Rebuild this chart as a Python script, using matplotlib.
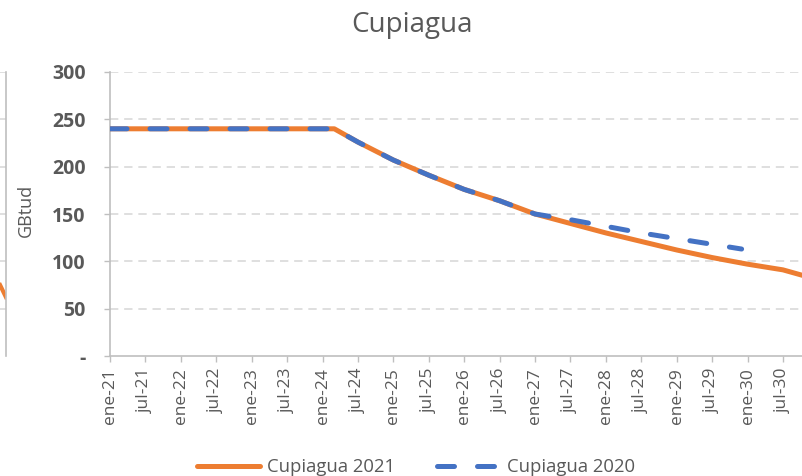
import matplotlib
matplotlib.use("Agg")
import matplotlib.pyplot as plt

plt.rcParams['font.family'] = ['Open Sans', 'DejaVu Sans']

# ---- data (x = months since ene-21) ----
month_2021 = [0, 38, 42, 48, 54, 60, 66, 72, 78, 84, 90, 96, 102, 108, 114, 118]
value_2021 = [240, 240, 226, 207, 191, 176, 164, 150, 140, 130, 121, 112, 104, 97, 91, 84]

month_2020 = [0, 38, 42, 48, 54, 60, 66, 72, 78, 84, 90, 96, 102, 107]
value_2020 = [240, 240, 226, 207, 191, 176, 164, 150, 144, 137, 130, 124, 118, 113]

xtick_months = list(range(0, 115, 6))
xtick_labels = ['ene-21', 'jul-21', 'ene-22', 'jul-22', 'ene-23', 'jul-23', 'ene-24', 'jul-24',
                'ene-25', 'jul-25', 'ene-26', 'jul-26', 'ene-27', 'jul-27', 'ene-28', 'jul-28',
                'ene-29', 'jul-29', 'ene-30', 'jul-30']
ytick_values = [0, 50, 100, 150, 200, 250, 300]
ytick_labels = ['-', '50', '100', '150', '200', '250', '300']

# fragment of neighbouring chart at the left edge
left_chart_x = [0.91, 1.0]
left_chart_y = [75, 62]

ORANGE = '#ED7D31'
BLUE = '#4472C4'
GRID = '#D9D9D9'
AXIS = '#BFBFBF'
TEXT = '#595959'

W, H = 803, 476
fig = plt.figure(figsize=(W / 100, H / 100), dpi=100)

x0, y0, y1 = 110, 356, 72
ax = fig.add_axes([x0 / W, (H - y0) / H, (W - x0) / W, (y0 - y1) / H])

ax.plot(month_2021, value_2021, color=ORANGE, lw=3.6, solid_capstyle='round',
        solid_joinstyle='round', label='Cupiagua 2021', zorder=3)
ax.plot(month_2020, value_2020, color=BLUE, lw=3.6, dashes=(3.4, 4.6),
        dash_capstyle='round', label='Cupiagua 2020', zorder=4)

ax.set_xlim(0, 117.4)
ax.set_ylim(0, 300)
ax.set_xticks(xtick_months)
ax.set_xticklabels(xtick_labels, rotation=90, fontsize=12.5, color=TEXT)
ax.set_yticks(ytick_values)
ax.set_yticklabels(ytick_labels, fontsize=14, color=TEXT, fontweight='bold')

ax.tick_params(axis='x', direction='out', length=4.5, width=1, color=AXIS, pad=4)
ax.tick_params(axis='y', direction='out', length=4.5, width=1, color=AXIS, pad=13)

for s in ['top', 'right']:
    ax.spines[s].set_visible(False)
for s in ['left', 'bottom']:
    ax.spines[s].set_color(AXIS)
    ax.spines[s].set_linewidth(1.2)

for v in ytick_values[1:]:
    ax.axhline(v, color=GRID, lw=1.2, dashes=(5, 3.5), zorder=1)

# neighbouring chart fragment
axl = fig.add_axes([-60 / W, (H - y0) / H, 66 / W, (y0 - y1) / H])
axl.set_xlim(0, 1)
axl.set_ylim(0, 300)
axl.plot(left_chart_x, left_chart_y, color=ORANGE, lw=3.0)
for v in ytick_values[1:]:
    axl.axhline(v, color=GRID, lw=1.2, dashes=(5, 3.5), zorder=1)
for s in ['top', 'left', 'bottom']:
    axl.spines[s].set_visible(False)
axl.spines['right'].set_color(AXIS)
axl.spines['right'].set_linewidth(1.2)
axl.set_xticks([])
axl.set_yticks([])

fig.text(412 / W, 1 - 32 / H, 'Cupiagua', ha='center', va='baseline', fontsize=20, color=TEXT)
fig.text(26 / W, 1 - 210 / H, 'GBtud', ha='center', va='center', rotation=90,
         fontsize=13, color=TEXT)

leg = fig.legend(loc='center', bbox_to_anchor=(416 / W, 1 - 467 / H), ncol=2, frameon=False,
                 fontsize=13.3, handlelength=3.4, handletextpad=0.35, columnspacing=2.3,
                 labelcolor=TEXT)

fig.savefig('out.png', dpi=100)
